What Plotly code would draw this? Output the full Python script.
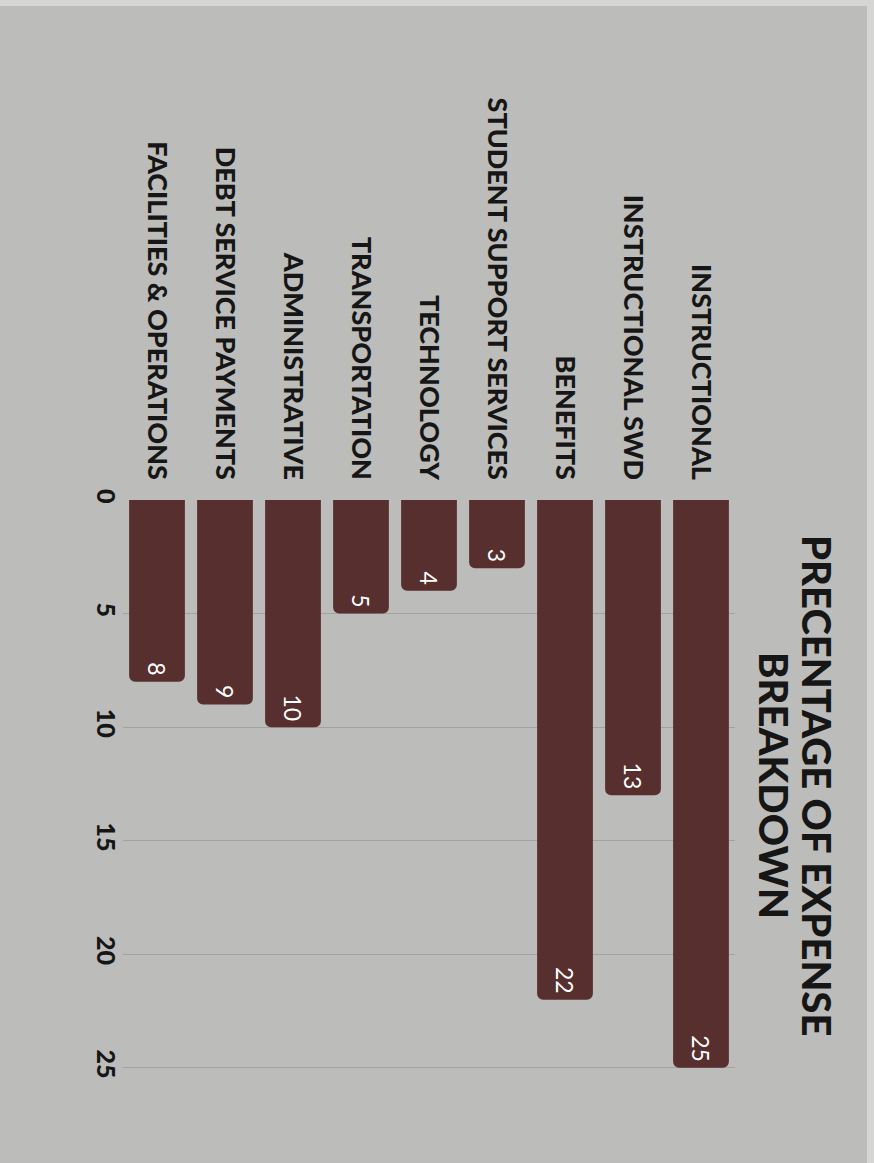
import plotly.graph_objects as go

# Expense categories, listed left-to-right as drawn (rotated layout)
categories = [
    "FACILITIES & OPERATIONS",
    "DEBT SERVICE PAYMENTS",
    "ADMINISTRATIVE",
    "TRANSPORTATION",
    "TECHNOLOGY",
    "STUDENT SUPPORT SERVICES",
    "BENEFITS",
    "INSTRUCTIONAL SWD",
    "INSTRUCTIONAL",
]
percentages = [8, 9, 10, 5, 4, 3, 22, 13, 25]
value_ticks = [0, 5, 10, 15, 20, 25]
title_lines = ["PRECENTAGE OF EXPENSE", "BREAKDOWN"]

BG = "#bcbdba"
BAR = "#572f2e"
INK = "#161616"
FONT = "Lato"

# plot area in pixels: left 123, width 612, top 500, height 636
def px_x(px):
    return (px - 123) / 612


def px_y(py):
    return (1136 - py) / 636


fig = go.Figure(
    go.Bar(
        x=categories,
        y=percentages,
        marker=dict(color=BAR, cornerradius=6, line=dict(width=0)),
        text=[str(v) for v in percentages],
        textposition="inside",
        insidetextanchor="end",
        textangle=90,
        textfont=dict(family=FONT, size=23, color="white"),
        width=0.82,
    )
)

title_annotations = [
    dict(
        text=line,
        xref="paper",
        yref="paper",
        x=px_x(cx),
        y=px_y(785),
        xanchor="center",
        yanchor="middle",
        showarrow=False,
        textangle=90,
        font=dict(family=FONT, size=40, color=INK, weight=900),
    )
    for line, cx in zip(title_lines, [817, 774])
]

fig.update_layout(
    width=874,
    height=1163,
    margin=dict(l=123, r=139, t=500, b=27),
    paper_bgcolor=BG,
    plot_bgcolor=BG,
    showlegend=False,
    bargap=0.18,
    font=dict(family=FONT, color=INK),
    xaxis=dict(
        side="top",
        tickangle=90,
        tickfont=dict(family=FONT, size=27, color=INK, weight=900),
        showgrid=False,
        showline=False,
        ticks="",
        ticklabelstandoff=15,
    ),
    yaxis=dict(
        range=[28, 0],
        tickvals=value_ticks,
        ticktext=[str(v) for v in value_ticks],
        tickangle=90,
        tickfont=dict(family=FONT, size=25, color=INK, weight=900),
        showgrid=True,
        gridcolor="#a2a3a0",
        gridwidth=1.2,
        zeroline=False,
        showline=False,
        ticks="",
        ticklabelstandoff=0,
    ),
    annotations=title_annotations,
    shapes=[
        # pale edges along the top and right borders of the card
        dict(type="rect", xref="paper", yref="paper",
             x0=px_x(0), x1=px_x(874), y0=px_y(0), y1=px_y(6),
             fillcolor="#d6d7d4", line=dict(width=0), layer="below"),
        dict(type="rect", xref="paper", yref="paper",
             x0=px_x(867), x1=px_x(874), y0=px_y(1163), y1=px_y(0),
             fillcolor="#d6d7d4", line=dict(width=0), layer="below"),
    ],
)

fig.write_html("out.html")
